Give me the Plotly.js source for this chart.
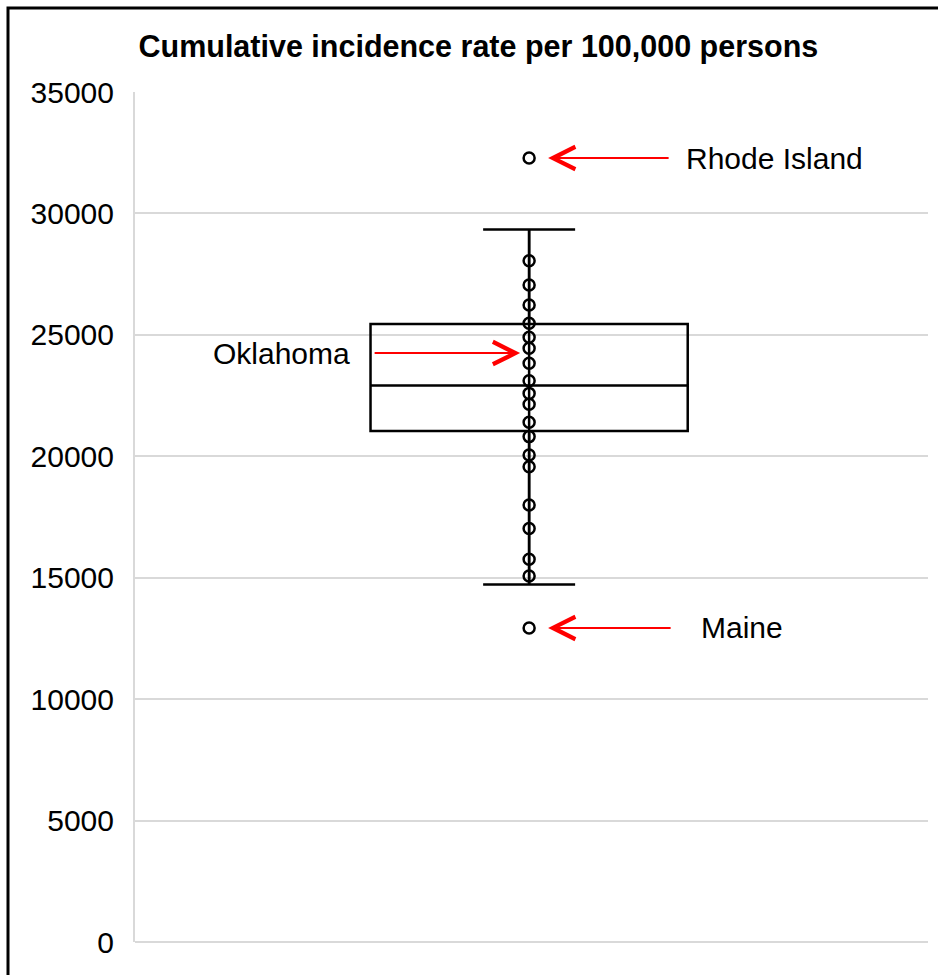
<!DOCTYPE html>
<html>
<head>
<meta charset="utf-8">
<script src="https://cdn.plot.ly/plotly-3.0.1.min.js"></script>
<style>
  html, body { margin: 0; padding: 0; background: #fff; }
  #chart { width: 938px; height: 975px; }
</style>
</head>
<body>
<div id="chart"></div>
<script>
// ---- data ----
const chartTitle = 'Cumulative incidence rate per 100,000 persons';
const category = [0];
const q1 = [21040];
const median = [22910];
const q3 = [25450];
const lowerFence = [14720];
const upperFence = [29340];
const pointValues = [28050, 27050, 26230, 25480, 24900, 24450, 23830, 23110, 22590, 22140,
                     21400, 20810, 20050, 19570, 17990, 17030, 15760, 15070];
const outlierValues = [32280, 12930];
const outlierLabels = ['Rhode Island', 'Maine'];
const highlightLabel = 'Oklahoma';
const highlightValue = 24250;
const yTickValues = [0, 5000, 10000, 15000, 20000, 25000, 30000, 35000];

const FONT = 'Liberation Sans, Arial, sans-serif';

const traces = [
  {
    type: 'box',
    x: category,
    q1: q1, median: median, q3: q3,
    lowerfence: lowerFence, upperfence: upperFence,
    width: 0.4,
    whiskerwidth: 0.29,
    boxpoints: false,
    fillcolor: 'rgba(255,255,255,0)',
    line: { color: '#000', width: 2.5 },
    hoverinfo: 'skip',
    showlegend: false
  },
  {
    type: 'scatter', mode: 'lines',
    x: [category[0], category[0]],
    y: [lowerFence[0], upperFence[0]],
    line: { color: '#000', width: 2.5 },
    hoverinfo: 'skip', showlegend: false
  },
  {
    type: 'scatter', mode: 'markers',
    x: pointValues.map(() => category[0]),
    y: pointValues,
    marker: { symbol: 'circle-open', size: 11, color: '#000', line: { width: 2.5, color: '#000' } },
    showlegend: false
  },
  {
    type: 'scatter', mode: 'markers',
    x: outlierValues.map(() => category[0]),
    y: outlierValues,
    marker: { symbol: 'circle-open', size: 11, color: '#000', line: { width: 2.5, color: '#000' } },
    showlegend: false
  }
];

const red = '#ff0000';
const annotations = [];
// arrows to outliers (right side)
const outlierArrowDx = [141, 143];
const outlierTextShift = [155, 170];
outlierValues.forEach((v, i) => {
  annotations.push({
    x: category[0], y: v, xref: 'x', yref: 'y',
    text: '', showarrow: true,
    ax: outlierArrowDx[i], ay: 0,
    standoff: 19,
    arrowhead: 5, arrowsize: 2.2, arrowwidth: 2, arrowcolor: red
  });
  annotations.push({
    x: category[0], y: v, xref: 'x', yref: 'y',
    text: outlierLabels[i], showarrow: false,
    xanchor: 'left', yanchor: 'middle', xshift: outlierTextShift[i],
    font: { family: FONT, size: 30, color: '#000' }
  });
});
// Oklahoma arrow (left side)
annotations.push({
  x: category[0], y: highlightValue, xref: 'x', yref: 'y',
  text: '', showarrow: true,
  ax: -156, ay: 0, standoff: 9,
  arrowhead: 5, arrowsize: 2.2, arrowwidth: 2, arrowcolor: red
});
annotations.push({
  x: category[0], y: highlightValue, xref: 'x', yref: 'y',
  text: highlightLabel, showarrow: false,
  xanchor: 'right', yanchor: 'middle', xshift: -177,
  font: { family: FONT, size: 30, color: '#000' }
});

const layout = {
  width: 938, height: 975,
  margin: { l: 135, r: 10, t: 92, b: 33, pad: 0 },
  paper_bgcolor: '#fff', plot_bgcolor: '#fff',
  font: { family: FONT, color: '#000' },
  title: {
    text: '<b>' + chartTitle + '</b>',
    font: { family: FONT, size: 30.5, color: '#000' },
    xref: 'container', yref: 'container',
    x: 0.51, xanchor: 'center', y: 0.953, yanchor: 'middle'
  },
  xaxis: {
    range: [-0.497, 0.503],
    showticklabels: false, showgrid: false, zeroline: false,
    showline: false, ticks: '', fixedrange: true
  },
  yaxis: {
    range: [0, 35000],
    tickvals: yTickValues,
    ticktext: yTickValues.map(String),
    tickfont: { family: FONT, size: 30, color: '#000' },
    ticklabelstandoff: 13,
    showgrid: true, gridcolor: '#d9d9d9', gridwidth: 2,
    zeroline: true, zerolinecolor: '#d9d9d9', zerolinewidth: 2,
    showline: true, linecolor: '#d9d9d9', linewidth: 2,
    ticks: '', fixedrange: true
  },
  annotations: annotations,
  shapes: [
    {
      type: 'rect', xref: 'paper', yref: 'paper',
      x0: (8 - 135) / 793,
      x1: (960 - 135) / 793,
      y0: (942 - 1010) / 850, y1: (942 - 8) / 850,
      line: { color: '#000', width: 3 }, fillcolor: 'rgba(0,0,0,0)'
    }
  ],
  showlegend: false
};

Plotly.newPlot('chart', traces, layout, { displayModeBar: false, staticPlot: true });
</script>
</body>
</html>
